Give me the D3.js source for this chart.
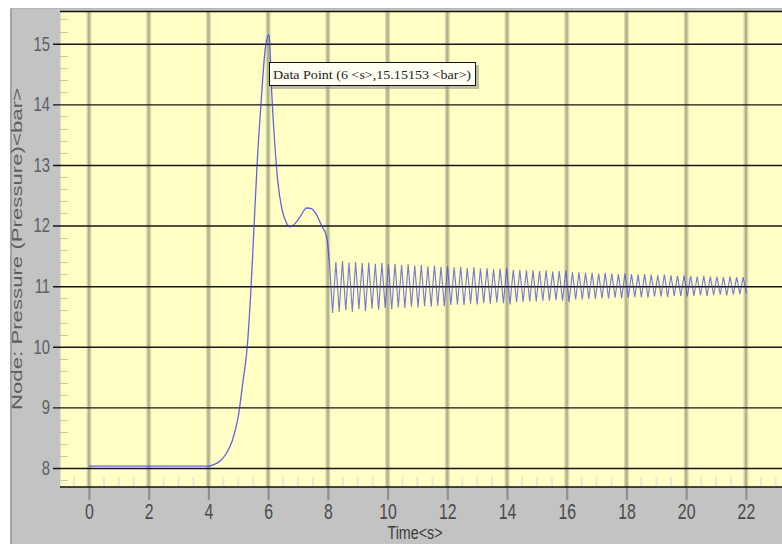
<!DOCTYPE html>
<html>
<head>
<meta charset="utf-8">
<script src="https://cdn.jsdelivr.net/npm/d3@7"></script>
<style>
  html, body { margin: 0; padding: 0; background: #ffffff; }
  svg { display: block; }
</style>
</head>
<body>
<svg id="chart" width="782" height="544"></svg>
<script>
// ---------------- data ----------------
const xTicks = [0, 2, 4, 6, 8, 10, 12, 14, 16, 18, 20, 22];
const yTicks = [8, 9, 10, 11, 12, 13, 14, 15];
const xLabel = "Time<s>";
const yLabel = "Node: Pressure (Pressure)<bar>";
const tooltipText = "Data Point (6 <s>,15.15153 <bar>)";

// startup transient (time in s, pressure in bar)
const rampTime = [0, 4.0, 4.2, 4.4, 4.6, 4.8, 5.0, 5.15, 5.3, 5.43, 5.53, 5.63, 5.76, 5.9, 6.03,
                  6.12, 6.23, 6.33, 6.46, 6.6, 6.73, 6.95, 7.1, 7.29, 7.45, 7.57, 7.79, 7.96, 8.05];
const rampPressure = [8.03, 8.03, 8.06, 8.12, 8.24, 8.45, 8.85, 9.4, 10.0, 11.0, 12.0, 13.0, 14.0, 14.9, 15.15,
                      14.2, 13.3, 12.7, 12.28, 12.06, 11.98, 12.06, 12.17, 12.29, 12.28, 12.22, 12.0, 11.81, 11.42];

// oscillating part (time in s, pressure in bar)
const oscTime = [8.05, 8.16, 8.27, 8.38, 8.49, 8.60, 8.71, 8.82, 8.93, 9.04, 9.15, 9.26, 9.37, 9.48, 9.59, 9.70,
  9.81, 9.92, 10.03, 10.14, 10.25, 10.36, 10.47, 10.58, 10.69, 10.80, 10.91, 11.02, 11.13, 11.24, 11.35, 11.46,
  11.57, 11.68, 11.79, 11.90, 12.01, 12.12, 12.23, 12.34, 12.45, 12.56, 12.67, 12.78, 12.89, 13.00, 13.11, 13.22,
  13.33, 13.44, 13.55, 13.66, 13.77, 13.88, 13.99, 14.10, 14.21, 14.32, 14.43, 14.54, 14.65, 14.76, 14.87, 14.98,
  15.09, 15.20, 15.31, 15.42, 15.53, 15.64, 15.75, 15.86, 15.97, 16.08, 16.19, 16.30, 16.41, 16.52, 16.63, 16.74,
  16.85, 16.96, 17.07, 17.18, 17.29, 17.40, 17.51, 17.62, 17.73, 17.84, 17.95, 18.06, 18.17, 18.28, 18.39, 18.50,
  18.61, 18.72, 18.83, 18.94, 19.05, 19.16, 19.27, 19.38, 19.49, 19.60, 19.71, 19.82, 19.93, 20.04, 20.15, 20.26,
  20.37, 20.48, 20.59, 20.70, 20.81, 20.92, 21.03, 21.14, 21.25, 21.36, 21.47, 21.58, 21.69, 21.80, 21.91, 22.02];
const oscPressure = [11.42, 10.56, 11.40, 10.58, 11.41, 10.60, 11.39, 10.58, 11.40, 10.62, 11.38, 10.59, 11.39, 10.63, 11.37, 10.61,
  11.38, 10.64, 11.36, 10.62, 11.37, 10.65, 11.35, 10.64, 11.36, 10.66, 11.34, 10.65, 11.35, 10.67, 11.33, 10.66,
  11.34, 10.68, 11.32, 10.67, 11.33, 10.69, 11.31, 10.70, 11.32, 10.69, 11.30, 10.71, 11.31, 10.70, 11.29, 10.72,
  11.30, 10.71, 11.28, 10.73, 11.29, 10.72, 11.30, 10.70, 11.27, 10.74, 11.27, 10.74, 11.26, 10.75, 11.26, 10.75,
  11.25, 10.76, 11.26, 10.76, 11.24, 10.77, 11.25, 10.76, 11.26, 10.74, 11.23, 10.78, 11.23, 10.78, 11.22, 10.79,
  11.22, 10.79, 11.21, 10.80, 11.22, 10.80, 11.21, 10.81, 11.20, 10.80, 11.21, 10.81, 11.20, 10.82, 11.19, 10.82,
  11.20, 10.81, 11.19, 10.83, 11.18, 10.83, 11.19, 10.82, 11.18, 10.84, 11.17, 10.84, 11.18, 10.83, 11.17, 10.84,
  11.16, 10.85, 11.17, 10.84, 11.16, 10.85, 11.16, 10.86, 11.15, 10.85, 11.16, 10.86, 11.15, 10.87, 11.15, 10.88];

// ---------------- layout ----------------
const W = 782, H = 544;
const plotLeft = 60, plotTop = 11, plotBottom = 487;
const xDomain = [-0.97, 24.0];
const yDomain = [7.687, 15.54];

const svg = d3.select("#chart");
const x = d3.scaleLinear().domain(xDomain).range([plotLeft, plotLeft + (xDomain[1] - xDomain[0]) * 29.86]);
const y = d3.scaleLinear().domain(yDomain).range([plotBottom, plotTop]);

// background frame
svg.append("rect").attr("x", 0).attr("y", 0).attr("width", W).attr("height", H).attr("fill", "#ffffff");
svg.append("rect").attr("x", 10).attr("y", 8).attr("width", W - 10).attr("height", H - 8).attr("fill", "#c3c3c3");
svg.append("line").attr("x1", 11).attr("x2", 11).attr("y1", 8).attr("y2", H).attr("stroke", "#a2a2a2").attr("stroke-width", 2);
svg.append("line").attr("x1", 10).attr("x2", W).attr("y1", 8.5).attr("y2", 8.5).attr("stroke", "#b6b6b6").attr("stroke-width", 1);

// plot area
svg.append("rect").attr("x", plotLeft).attr("y", plotTop).attr("width", W - plotLeft).attr("height", plotBottom - plotTop)
  .attr("fill", "#ffffc6");
svg.append("line").attr("x1", plotLeft + 0.5).attr("x2", plotLeft + 0.5).attr("y1", plotTop).attr("y2", plotBottom)
  .attr("stroke", "#e4e4b0").attr("stroke-width", 1);

// minor ticks (inside plot)
const yMinor = d3.range(Math.ceil(yDomain[0] * 5), Math.floor(yDomain[1] * 5) + 1).map(v => v / 5)
  .filter(v => Math.abs(v - Math.round(v)) > 1e-6);
svg.append("g").selectAll("line").data(yMinor).join("line")
  .attr("x1", plotLeft).attr("x2", plotLeft + 8)
  .attr("y1", d => Math.round(y(d)) + 0.5).attr("y2", d => Math.round(y(d)) + 0.5)
  .attr("stroke", "#c8c8b4").attr("stroke-width", 1);
const xMinor = d3.range(Math.ceil(xDomain[0] * 2), Math.floor(xDomain[1] * 2) + 1).map(v => v / 2)
  .filter(v => Math.abs(v / 2 - Math.round(v / 2)) > 1e-6);
svg.append("g").selectAll("line").data(xMinor).join("line")
  .attr("x1", d => x(d)).attr("x2", d => x(d))
  .attr("y1", plotBottom - 10).attr("y2", plotBottom)
  .attr("stroke", "#e8e8d6").attr("stroke-width", 2);

// vertical grid lines (soft olive)
const vgrid = svg.append("g");
vgrid.selectAll("line.soft").data(xTicks).join("line").attr("class", "soft")
  .attr("x1", d => x(d)).attr("x2", d => x(d)).attr("y1", plotTop).attr("y2", plotBottom)
  .attr("stroke", "#d9d9aa").attr("stroke-width", 5);
vgrid.selectAll("line.core").data(xTicks).join("line").attr("class", "core")
  .attr("x1", d => x(d)).attr("x2", d => x(d)).attr("y1", plotTop).attr("y2", plotBottom)
  .attr("stroke", "#b2b28e").attr("stroke-width", 2.2);

// x axis (ticks below plot + labels)
const xAxis = d3.axisBottom(x).tickValues(xTicks).tickSizeInner(13).tickSizeOuter(0).tickPadding(3)
  .tickFormat(d3.format("d"));
const gx = svg.append("g").attr("transform", `translate(0,${plotBottom})`).call(xAxis);
gx.select(".domain").remove();
gx.selectAll(".tick line").attr("stroke", "#8f8f8f").attr("stroke-width", 2.2);
gx.selectAll(".tick text")
  .attr("font-family", "'Liberation Sans', Arial, sans-serif").attr("font-size", 22)
  .attr("fill", "#4a4a4a").attr("transform", "scale(0.72,1)");

// y axis with black horizontal grid lines
const yAxis = d3.axisLeft(y).tickValues(yTicks).tickSizeInner(-(W - plotLeft)).tickSizeOuter(0).tickPadding(10)
  .tickFormat(d3.format("d"));
const gy = svg.append("g").attr("transform", `translate(${plotLeft},0)`).call(yAxis);
gy.select(".domain").remove();
gy.selectAll(".tick line").attr("x1", -7).attr("stroke", "#161616").attr("stroke-width", 1.4);
gy.selectAll(".tick text")
  .attr("font-family", "'Liberation Sans', Arial, sans-serif").attr("font-size", 20)
  .attr("fill", "#5e5e5e").attr("x", -10 / 0.74).attr("transform", "scale(0.74,1)");

// plot borders top & bottom
svg.append("line").attr("x1", plotLeft).attr("x2", W).attr("y1", plotTop + 0.5).attr("y2", plotTop + 0.5)
  .attr("stroke", "#111").attr("stroke-width", 1.5);
svg.append("line").attr("x1", plotLeft).attr("x2", W).attr("y1", plotBottom).attr("y2", plotBottom)
  .attr("stroke", "#111").attr("stroke-width", 1.6);

// axis titles
svg.append("text").attr("x", 415).attr("y", 539).attr("text-anchor", "middle")
  .attr("font-family", "'Liberation Sans', Arial, sans-serif").attr("font-size", 18)
  .attr("fill", "#3c3c3c").attr("textLength", 55).attr("lengthAdjust", "spacingAndGlyphs").text(xLabel);
svg.append("text").attr("transform", "translate(22,249) rotate(-90)").attr("text-anchor", "middle")
  .attr("font-family", "'Liberation Sans', Arial, sans-serif").attr("font-size", 15.5)
  .attr("fill", "#5e5e5e").attr("textLength", 322).attr("lengthAdjust", "spacingAndGlyphs").text(yLabel);

// data lines
const rampPts = rampTime.map((t, i) => [t, rampPressure[i]]);
const oscPts = oscTime.map((t, i) => [t, oscPressure[i]]);
const smooth = d3.line().x(d => x(d[0])).y(d => y(d[1])).curve(d3.curveMonotoneX);
const straight = d3.line().x(d => x(d[0])).y(d => y(d[1]));
svg.append("path").datum(rampPts).attr("d", smooth).attr("fill", "none")
  .attr("stroke", "#3c3ce6").attr("stroke-width", 1.3).attr("stroke-opacity", 0.8);
svg.append("path").datum(oscPts).attr("d", straight).attr("fill", "none")
  .attr("stroke", "#3c3ce6").attr("stroke-width", 1.1).attr("stroke-opacity", 0.7);

// tooltip
const tip = svg.append("g");
tip.append("rect").attr("x", 272).attr("y", 65).attr("width", 207).attr("height", 24).attr("fill", "#8a8a80").attr("opacity", 0.55);
tip.append("rect").attr("x", 269.5).attr("y", 62.5).attr("width", 206).attr("height", 23)
  .attr("fill", "#fffff4").attr("stroke", "#111").attr("stroke-width", 1);
tip.append("text").attr("x", 273).attr("y", 78.5)
  .attr("font-family", "'Liberation Serif', 'DejaVu Serif', serif").attr("font-size", 12.5)
  .attr("fill", "#222").attr("textLength", 198).attr("lengthAdjust", "spacingAndGlyphs").text(tooltipText);
</script>
</body>
</html>
